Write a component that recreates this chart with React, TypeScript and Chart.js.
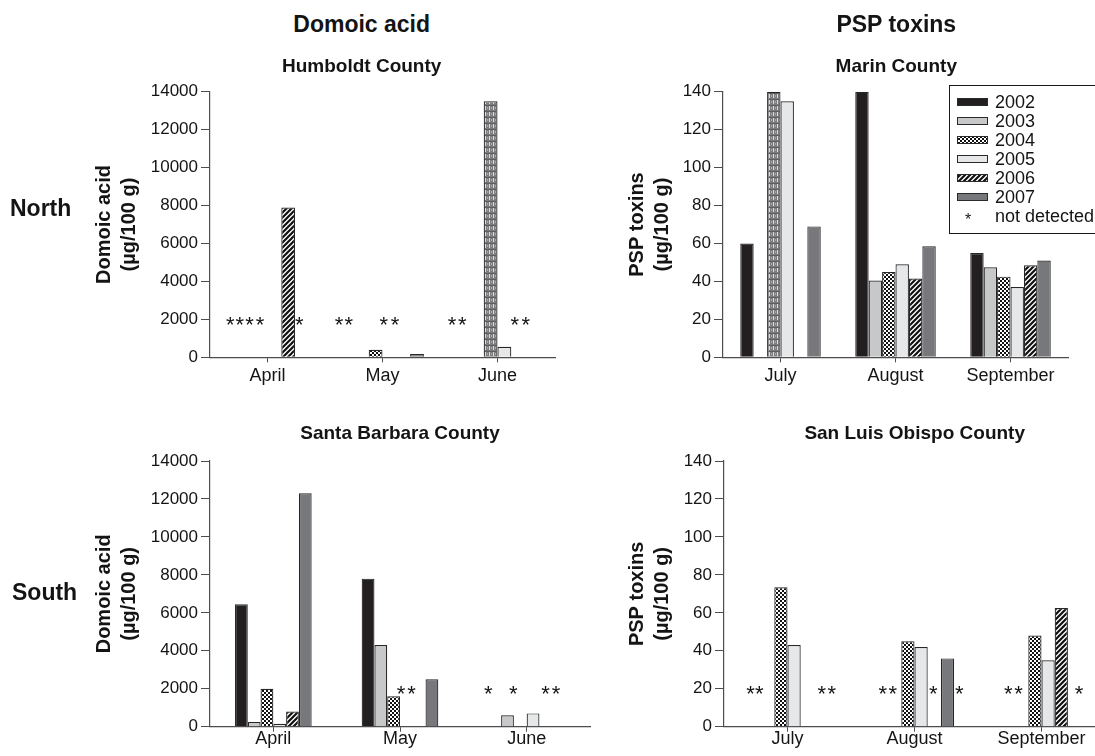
import React, { useEffect, useRef } from 'react';
import { Chart, registerables } from 'chart.js';

Chart.register(...registerables);

const FONT = '"Liberation Sans", Arial, Helvetica, sans-serif';

// ---------- data ----------
const years = ['2002', '2003', '2004', '2005', '2006', '2007'];
const domoicMonths = ['April', 'May', 'June'];
const pspMonths = ['July', 'August', 'September'];

// Humboldt County – domoic acid (µg/100 g)
const humboldt2002 = [null, null, null];
const humboldt2003 = [null, null, null];
const humboldt2004 = [null, 400, 13500];
const humboldt2005 = [null, null, 550];
const humboldt2006 = [7900, null, null];
const humboldt2007 = [null, 170, null];
const humboldtTall2004 = [false, false, true];
// "not detected" asterisks: [category index, offset from category centre in bar slots]
const humboldtNotDetected = [
  [0, -2.7], [0, -2.0], [0, -1.3], [0, -0.55], [0, 2.3],
  [1, -3.15], [1, -2.45], [1, 0.1], [1, 0.9],
  [2, -3.3], [2, -2.55], [2, 1.25], [2, 2.05],
];

// Marin County – PSP toxins (µg/100 g)
const marin2002 = [60, 140, 55];
const marin2003 = [null, 40.5, 47.5];
const marin2004 = [140, 45, 42.5];
const marin2005 = [135, 49, 37];
const marin2006 = [null, 41.5, 48.5];
const marin2007 = [69, 58.5, 51];
const marinTall2004 = [true, false, false];
const marinNotDetected: number[][] = [];

// Santa Barbara County – domoic acid (µg/100 g)
const santaBarbara2002 = [6450, 7800, null];
const santaBarbara2003 = [250, 4300, 600];
const santaBarbara2004 = [2000, 1600, null];
const santaBarbara2005 = [150, null, 700];
const santaBarbara2006 = [800, null, null];
const santaBarbara2007 = [12300, 2500, null];
const santaBarbaraTall2004 = [false, false, false];
const santaBarbaraNotDetected = [
  [1, 0.08], [1, 0.91],
  [2, -3.0], [2, -1.05], [2, 1.48], [2, 2.29],
];

// San Luis Obispo County – PSP toxins (µg/100 g)
const sanLuis2002 = [null, null, null];
const sanLuis2003 = [null, null, null];
const sanLuis2004 = [73.5, 45, 48];
const sanLuis2005 = [43, 42, 35];
const sanLuis2006 = [null, null, 62.5];
const sanLuis2007 = [null, 36, null];
const sanLuisTall2004 = [false, false, false];
const sanLuisNotDetected = [
  [0, -2.79], [0, -2.14], [0, 2.59], [0, 3.35],
  [1, -2.41], [1, -1.65], [1, 1.42], [1, 3.39],
  [2, -2.52], [2, -1.73], [2, 2.84],
];

const domoicTicks = { max: 14000, step: 2000, markerLevel: 2000 };
const pspTicks = { max: 140, step: 20, markerLevel: 20 };

// ---------- styling helpers ----------
function makePatterns(ctx: CanvasRenderingContext2D) {
  const mk = (w: number, h: number, draw: (c: CanvasRenderingContext2D) => void) => {
    const t = document.createElement('canvas');
    t.width = w;
    t.height = h;
    const c = t.getContext('2d')!;
    draw(c);
    return ctx.createPattern(t, 'repeat')!;
  };
  const checker = mk(4, 4, (c) => {
    c.fillStyle = '#ffffff';
    c.fillRect(0, 0, 4, 4);
    c.fillStyle = '#111111';
    c.fillRect(0, 0, 2, 2);
    c.fillRect(2, 2, 2, 2);
  });
  const hatch = mk(5, 5, (c) => {
    c.fillStyle = '#ffffff';
    c.fillRect(0, 0, 5, 5);
    c.strokeStyle = '#111111';
    c.lineWidth = 2.2;
    c.beginPath();
    c.moveTo(-1, 6); c.lineTo(6, -1);
    c.moveTo(-1, 1); c.lineTo(1, -1);
    c.moveTo(4, 6); c.lineTo(6, 4);
    c.stroke();
  });
  const tall = mk(4, 6, (c) => {
    c.fillStyle = '#7c7c7e';
    c.fillRect(0, 0, 4, 6);
    c.fillStyle = '#dcdcdc';
    c.fillRect(1, 0, 1, 4);
    c.fillStyle = '#a9a9ab';
    c.fillRect(3, 1, 1, 2);
    c.fillStyle = '#5e5e60';
    c.fillRect(0, 5, 4, 1);
  });
  return { checker, hatch, tall };
}

type PanelSpec = {
  left: number; top: number; width: number; height: number;
  padLeft: number; padTop: number; padRight: number;
  yWidth: number; xHeight: number; titlePadTop: number; xTickPad: number;
  categories: string[];
  series: (number | null)[][];
  tall2004: boolean[];
  axis: { max: number; step: number; markerLevel: number };
  yTitle: string[];
  catPct: number;
  markers: number[][];
  legend: boolean;
};

const AXIS = '#4d4d4d';
const TEXT = '#141414';

function Panel({ spec }: { spec: PanelSpec }) {
  const ref = useRef<HTMLCanvasElement | null>(null);
  useEffect(() => {
    const canvas = ref.current!;
    const ctx = canvas.getContext('2d')!;
    const pats = makePatterns(ctx);
    const fills: any[] = ['#231f20', '#c7c8ca', pats.checker, '#e6e7e8', pats.hatch, '#77787b'];

    const datasets = years.map((y, i) => ({
      label: y,
      data: spec.series[i],
      backgroundColor: i === 2 ? spec.series[i].map((_, c) => (spec.tall2004[c] ? pats.tall : pats.checker)) : fills[i],
      borderColor: '#262626',
      borderWidth: 1.2,
      categoryPercentage: spec.catPct,
      barPercentage: 1,
    }));

    const markerPlugin = {
      id: 'notDetected',
      afterDatasetsDraw(chart: any) {
        const xs = chart.scales.x;
        const ys = chart.scales.y;
        const catW = xs.getPixelForValue(1) - xs.getPixelForValue(0);
        const step = (catW * spec.catPct) / chart.data.datasets.length;
        const y = ys.getPixelForValue(spec.axis.markerLevel);
        const c = chart.ctx;
        c.save();
        c.fillStyle = TEXT;
        c.font = `22px ${FONT}`;
        c.textAlign = 'center';
        c.textBaseline = 'alphabetic';
        spec.markers.forEach(([cat, off]) => {
          c.fillText('*', xs.getPixelForValue(cat) + off * step, y + 12.5);
        });
        c.restore();
      },
    };

    const legendPlugin = {
      id: 'boxLegend',
      afterDraw(chart: any) {
        if (!spec.legend) return;
        const c = chart.ctx;
        const bx = 389.5, by = 45.5, bw = 180, bh = 148;
        c.save();
        c.fillStyle = '#ffffff';
        c.fillRect(bx, by, bw, bh);
        c.strokeStyle = '#1a1a1a';
        c.lineWidth = 1;
        c.strokeRect(bx, by, bw, bh);
        c.font = `18px ${FONT}`;
        c.textBaseline = 'middle';
        c.textAlign = 'left';
        chart.data.datasets.forEach((ds: any, i: number) => {
          const y = 61.7 + 19 * i;
          c.fillStyle = fills[i];
          c.fillRect(397.5, Math.round(y - 3.5) + 0.5, 30, 7);
          c.strokeStyle = '#2a2a2a';
          c.strokeRect(397.5, Math.round(y - 3.5) + 0.5, 30, 7);
          c.fillStyle = TEXT;
          c.fillText(ds.label, 435, y + 1);
        });
        const yN = 61.7 + 19 * 6;
        c.textAlign = 'center';
        c.textBaseline = 'alphabetic';
        c.font = `16px ${FONT}`;
        c.fillText('*', 408, yN + 9);
        c.textAlign = 'left';
        c.textBaseline = 'middle';
        c.font = `18px ${FONT}`;
        c.fillText('not detected', 435, yN + 1);
        c.restore();
      },
    };

    const chart = new Chart(canvas, {
      type: 'bar',
      data: { labels: spec.categories, datasets: datasets as any },
      options: {
        animation: false,
        responsive: false,
        maintainAspectRatio: false,
        layout: { padding: { left: spec.padLeft, top: spec.padTop, right: spec.padRight, bottom: 0 } },
        plugins: {
          legend: { display: false },
          tooltip: { enabled: false },
          title: { display: false },
        },
        scales: {
          x: {
            type: 'category',
            offset: true,
            grid: { drawOnChartArea: false, offset: false, tickLength: 5, color: AXIS, tickColor: AXIS, lineWidth: 1 },
            border: { color: AXIS, width: 1.2 },
            ticks: {
              color: TEXT,
              font: { family: FONT, size: 18 },
              padding: spec.xTickPad,
              maxRotation: 0,
              autoSkip: false,
            },
            afterFit: (s: any) => { s.height = spec.xHeight; },
          },
          y: {
            min: 0,
            max: spec.axis.max,
            grid: { drawOnChartArea: false, tickLength: 9, color: AXIS, tickColor: AXIS, lineWidth: 1 },
            border: { color: AXIS, width: 1.2 },
            ticks: {
              stepSize: spec.axis.step,
              color: TEXT,
              font: { family: FONT, size: 17 },
              padding: 3,
              callback: (v: any) => String(v),
            },
            title: {
              display: true,
              text: spec.yTitle,
              color: TEXT,
              font: { family: FONT, size: 20, weight: 'bold', lineHeight: 1.25 },
              padding: { top: spec.titlePadTop, bottom: 0 },
            },
            afterFit: (s: any) => { s.width = spec.yWidth; },
          },
        },
      } as any,
      plugins: [markerPlugin, legendPlugin],
    });
    return () => chart.destroy();
  }, [spec]);

  return (
    <canvas
      ref={ref}
      width={spec.width}
      height={spec.height}
      style={{ position: 'absolute', left: spec.left, top: spec.top, width: spec.width, height: spec.height }}
    />
  );
}

const humboldtSpec: PanelSpec = {
  left: 0, top: 40, width: 565, height: 360,
  padLeft: 80, padTop: 51.7, padRight: 10, yWidth: 130, xHeight: 42.7, titlePadTop: 11.5, xTickPad: 3,
  categories: domoicMonths,
  series: [humboldt2002, humboldt2003, humboldt2004, humboldt2005, humboldt2006, humboldt2007],
  tall2004: humboldtTall2004,
  axis: domoicTicks,
  yTitle: ['Domoic acid', '(µg/100 g)'],
  catPct: 0.72,
  markers: humboldtNotDetected,
  legend: false,
};

const marinSpec: PanelSpec = {
  left: 560, top: 40, width: 560, height: 360,
  padLeft: 50, padTop: 51.7, padRight: 52, yWidth: 113, xHeight: 42.7, titlePadTop: 14.5, xTickPad: 3,
  categories: pspMonths,
  series: [marin2002, marin2003, marin2004, marin2005, marin2006, marin2007],
  tall2004: marinTall2004,
  axis: pspTicks,
  yTitle: ['PSP toxins', '(µg/100 g)'],
  catPct: 0.7,
  markers: marinNotDetected,
  legend: true,
};

const santaBarbaraSpec: PanelSpec = {
  left: 0, top: 400, width: 600, height: 356,
  padLeft: 80, padTop: 61, padRight: 10, yWidth: 130, xHeight: 29.3, titlePadTop: 11.5, xTickPad: -3,
  categories: domoicMonths,
  series: [santaBarbara2002, santaBarbara2003, santaBarbara2004, santaBarbara2005, santaBarbara2006, santaBarbara2007],
  tall2004: santaBarbaraTall2004,
  axis: domoicTicks,
  yTitle: ['Domoic acid', '(µg/100 g)'],
  catPct: 0.605,
  markers: santaBarbaraNotDetected,
  legend: false,
};

const sanLuisSpec: PanelSpec = {
  left: 560, top: 400, width: 560, height: 356,
  padLeft: 50, padTop: 61, padRight: 15, yWidth: 114, xHeight: 29.3, titlePadTop: 14.5, xTickPad: -3,
  categories: pspMonths,
  series: [sanLuis2002, sanLuis2003, sanLuis2004, sanLuis2005, sanLuis2006, sanLuis2007],
  tall2004: sanLuisTall2004,
  axis: pspTicks,
  yTitle: ['PSP toxins', '(µg/100 g)'],
  catPct: 0.624,
  markers: sanLuisNotDetected,
  legend: false,
};

function Label({ text, cx, capY, size, left }: { text: string; cx?: number; capY: number; size: number; left?: number }) {
  const top = capY - 0.49 * size;
  const style: React.CSSProperties = {
    position: 'absolute',
    top,
    fontFamily: FONT,
    fontWeight: 'bold',
    fontSize: size,
    lineHeight: `${size}px`,
    color: TEXT,
    whiteSpace: 'nowrap',
  };
  if (cx !== undefined) {
    style.left = cx - 200;
    style.width = 400;
    style.textAlign = 'center';
  } else {
    style.left = left;
  }
  return <div style={style}>{text}</div>;
}

export default function App() {
  return (
    <div
      style={{
        position: 'absolute', left: 0, top: 0, width: 1095, height: 756,
        overflow: 'hidden', background: '#ffffff',
      }}
    >
      <Panel spec={humboldtSpec} />
      <Panel spec={marinSpec} />
      <Panel spec={santaBarbaraSpec} />
      <Panel spec={sanLuisSpec} />
      <Label text="Domoic acid" cx={361.7} capY={24.3} size={23} />
      <Label text="PSP toxins" cx={896.3} capY={24.3} size={23} />
      <Label text="Humboldt County" cx={361.7} capY={65} size={19} />
      <Label text="Marin County" cx={896.3} capY={65} size={19} />
      <Label text="Santa Barbara County" cx={400} capY={432.7} size={19} />
      <Label text="San Luis Obispo County" cx={914.7} capY={432.7} size={19} />
      <Label text="North" left={10} capY={208.7} size={23} />
      <Label text="South" left={12} capY={592} size={23} />
    </div>
  );
}
